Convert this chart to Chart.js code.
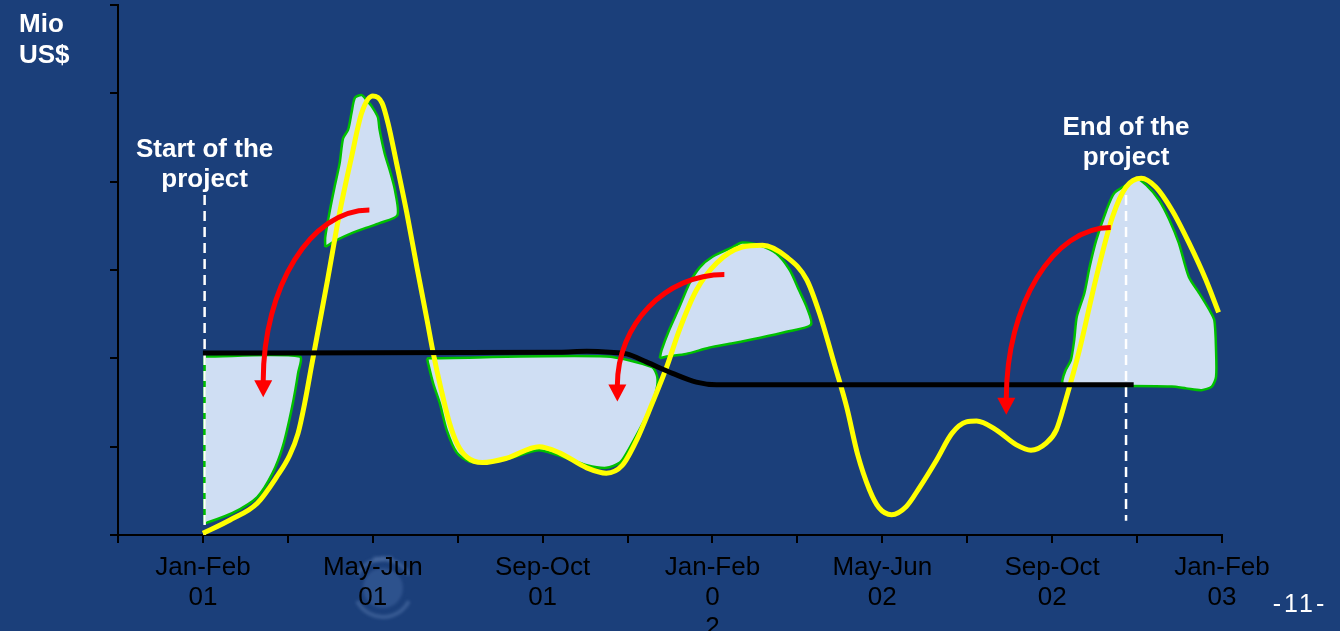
<!DOCTYPE html>
<html>
<head>
<meta charset="utf-8">
<script src="https://cdn.jsdelivr.net/npm/chart.js@4/dist/chart.umd.min.js"></script>
<style>
  html, body { margin: 0; padding: 0; background: #1b3f7a; overflow: hidden; }
  canvas { display: block; }
</style>
</head>
<body>
<canvas id="c" width="1340" height="631"></canvas>
<script>
// Two-month periods along x: 0 = Jan-Feb 01, 1 = Mar-Apr 01, ... 12 = Jan-Feb 03
const tickPositions = [0, 2, 4, 6, 8, 10, 12];
const tickLabels = [
  ['Jan-Feb', '01'], ['May-Jun', '01'], ['Sep-Oct', '01'],
  ['Jan-Feb', '0', '2'], ['May-Jun', '02'], ['Sep-Oct', '02'], ['Jan-Feb', '03']
];

// Cash requirement curve (Mio US$)
const cashflowPeriod = [0, 0.32, 0.64, 0.87, 1.02, 1.12, 1.20, 1.28, 1.34, 1.47, 1.61, 1.75, 1.87, 2.00, 2.11,
  2.18, 2.28, 2.40, 2.52, 2.64, 2.71, 2.80, 2.90, 3.00, 3.11, 3.29, 3.58, 3.96, 4.20, 4.52, 4.75,
  4.94, 5.11, 5.29, 5.46, 5.61, 5.81, 6.05, 6.35, 6.59, 6.87, 7.11, 7.26, 7.44, 7.58, 7.71,
  7.85, 7.96, 8.11, 8.28, 8.44, 8.64, 8.82, 8.99, 9.11, 9.34, 9.58, 9.75, 9.93, 10.05, 10.16,
  10.32, 10.52, 10.71, 10.87, 11.05, 11.22, 11.41, 11.61, 11.81, 11.96];
const cashflowValue = [0.02, 0.17, 0.36, 0.66, 0.90, 1.15, 1.50, 1.92, 2.23, 2.90, 3.65, 4.28, 4.78, 4.97, 4.89,
  4.66, 4.21, 3.65, 3.03, 2.43, 2.07, 1.67, 1.28, 1.02, 0.88, 0.82, 0.87, 1.00, 0.93, 0.76, 0.70,
  0.79, 1.08, 1.49, 1.90, 2.32, 2.77, 3.08, 3.26, 3.28, 3.15, 2.89, 2.51, 1.92, 1.45, 0.91,
  0.51, 0.31, 0.23, 0.32, 0.54, 0.85, 1.15, 1.28, 1.29, 1.19, 1.02, 0.96, 1.04, 1.19, 1.53,
  2.09, 2.92, 3.60, 3.94, 4.04, 3.94, 3.68, 3.31, 2.89, 2.52];

// Flat funding level
const fundingPeriod = [0, 4.20, 4.52, 4.79, 4.99, 5.22, 5.53, 5.81, 6.05, 6.32, 10.96];
const fundingValue = [2.06, 2.07, 2.08, 2.07, 2.05, 1.96, 1.83, 1.73, 1.70, 1.70, 1.70];

// Project start / end markers
const projectStart = 0.02;
const projectEnd = 10.87;
const startMarkerTop = 3.85;
const endMarkerTop = 3.85;
const endMarkerBottom = 0.16;

// Shaded areas: [period, Mio US$]
const shortfallOne = [[0.02, 2.02], [1.14, 2.02], [1.12, 1.83], [1.05, 1.45], [0.94, 1.00], [0.82, 0.70],
  [0.64, 0.43], [0.35, 0.25], [0.05, 0.14], [0.02, 0.14], [0.02, 2.02]];
const surplusOne = [[1.44, 3.26], [1.44, 3.37], [1.49, 3.65], [1.55, 3.94], [1.61, 4.21], [1.65, 4.49],
  [1.71, 4.59], [1.75, 4.78], [1.79, 4.95], [1.87, 4.98], [1.93, 4.92], [1.99, 4.85], [2.06, 4.73],
  [2.08, 4.59], [2.14, 4.32], [2.20, 4.13], [2.26, 3.91], [2.29, 3.62], [2.08, 3.53], [1.93, 3.48],
  [1.76, 3.42], [1.58, 3.34], [1.44, 3.26]];
const shortfallTwo = [[2.64, 2.00], [4.75, 2.02], [5.29, 1.90], [5.35, 1.79], [5.34, 1.64], [5.26, 1.42],
  [5.14, 1.19], [4.99, 0.93], [4.91, 0.82], [4.75, 0.76], [4.52, 0.79], [4.28, 0.87], [3.96, 0.96],
  [3.65, 0.88], [3.34, 0.83], [3.14, 0.83], [2.99, 0.93], [2.87, 1.19], [2.79, 1.49], [2.71, 1.72],
  [2.65, 1.95], [2.64, 2.00]];
const surplusTwo = [[5.38, 2.00], [5.40, 2.09], [5.49, 2.32], [5.61, 2.58], [5.73, 2.85], [5.85, 3.03],
  [6.00, 3.15], [6.24, 3.26], [6.35, 3.31], [6.55, 3.28], [6.75, 3.19], [6.91, 3.00], [7.02, 2.77],
  [7.11, 2.58], [7.16, 2.38], [6.87, 2.30], [6.55, 2.23], [6.24, 2.17], [5.96, 2.12], [5.69, 2.05],
  [5.46, 2.02], [5.38, 2.00]];
const surplusEnd = [[10.12, 1.69], [10.12, 1.75], [10.16, 1.87], [10.22, 1.98], [10.26, 2.21], [10.29, 2.47],
  [10.38, 2.74], [10.44, 3.03], [10.52, 3.34], [10.64, 3.68], [10.73, 3.87], [10.87, 3.96], [10.99, 4.04],
  [11.11, 3.96], [11.26, 3.79], [11.38, 3.57], [11.49, 3.31], [11.61, 2.92], [11.73, 2.74], [11.85, 2.55],
  [11.91, 2.43], [11.93, 2.09], [11.93, 1.79], [11.88, 1.68], [11.76, 1.64], [11.58, 1.66], [11.41, 1.68],
  [10.55, 1.69], [10.12, 1.69]];

// Transfers of surplus into earlier shortfalls: from [period, value] to [period, value]
const transferFrom = [[1.96, 3.68], [6.14, 2.95], [10.69, 3.48]];
const transferTo = [[0.71, 1.56], [4.88, 1.51], [9.46, 1.36]];

const BG = '#1b3f7a';
const FONT = '"Liberation Sans", Arial, Helvetica, sans-serif';

const toPoints = (xs, ys) => xs.map((x, i) => ({ x, y: ys[i] }));
const pairPoints = (pairs) => pairs.map(([x, y]) => ({ x, y }));

function areaDataset(pairs) {
  return {
    data: pairPoints(pairs),
    borderColor: '#00c000',
    borderWidth: 2.5,
    areaFill: '#cfdef3',
    fill: false,
    tension: 0.25,
    pointRadius: 0,
    order: 5
  };
}

const background = {
  id: 'background',
  beforeDraw(chart) {
    const ctx = chart.ctx;
    ctx.save();
    ctx.fillStyle = BG;
    ctx.fillRect(0, 0, chart.width, chart.height);
    // faint emblem below the axis
    ctx.filter = 'blur(1.5px)';
    ctx.globalAlpha = 0.3;
    ctx.strokeStyle = '#7f9fd0';
    ctx.lineWidth = 4;
    ctx.beginPath();
    ctx.arc(383, 588, 29, 0.15 * Math.PI, 0.85 * Math.PI);
    ctx.stroke();
    ctx.beginPath();
    ctx.arc(383, 588, 29, 1.15 * Math.PI, 1.85 * Math.PI);
    ctx.stroke();
    ctx.fillStyle = '#5a7fba';
    ctx.beginPath();
    ctx.arc(383, 588, 20, 0, 2 * Math.PI);
    ctx.fill();
    ctx.fillStyle = '#8fa9d6';
    ctx.font = 'bold 9px ' + FONT;
    ctx.textAlign = 'center';
    ctx.fillText('WFP', 383, 562);
    ctx.restore();
  }
};

// Fill the closed shaded outlines before their green border is stroked
const areaFill = {
  id: 'areaFill',
  beforeDatasetDraw(chart, args) {
    const ds = chart.data.datasets[args.index];
    if (!ds.areaFill) return;
    const ctx = chart.ctx;
    const area = chart.chartArea;
    ctx.save();
    ctx.beginPath();
    ctx.rect(area.left, area.top, area.right - area.left, area.bottom - area.top);
    ctx.clip();
    ctx.beginPath();
    const line = args.meta.dataset;
    let done = false;
    try { line.path(ctx); done = true; } catch (e) { done = false; }
    if (!done) {
      ctx.beginPath();
      args.meta.data.forEach((p, i) => (i ? ctx.lineTo(p.x, p.y) : ctx.moveTo(p.x, p.y)));
    }
    ctx.closePath();
    ctx.fillStyle = ds.areaFill;
    ctx.fill();
    ctx.restore();
  }
};

const annotations = {
  id: 'annotations',
  afterDatasetsDraw(chart) {
    const ctx = chart.ctx;
    const xs = chart.scales.x, ys = chart.scales.y;
    ctx.save();
    // curved red transfer arrows
    ctx.strokeStyle = '#ff0000';
    ctx.fillStyle = '#ff0000';
    ctx.lineWidth = 5;
    ctx.lineCap = 'butt';
    transferFrom.forEach((from, i) => {
      const x0 = xs.getPixelForValue(from[0]), y0 = ys.getPixelForValue(from[1]);
      const x1 = xs.getPixelForValue(transferTo[i][0]), y1 = ys.getPixelForValue(transferTo[i][1]);
      const head = 17, half = 9;
      const by = y1 - head;
      const k = 0.55;
      ctx.beginPath();
      ctx.moveTo(x0, y0);
      ctx.bezierCurveTo(x0 - k * (x0 - x1), y0, x1, by - k * (by - y0), x1, by + 1);
      ctx.stroke();
      ctx.beginPath();
      ctx.moveTo(x1, y1);
      ctx.lineTo(x1 - half, by);
      ctx.lineTo(x1 + half, by);
      ctx.closePath();
      ctx.fill();
    });
    ctx.restore();
  },
  afterDraw(chart) {
    const ctx = chart.ctx;
    const xs = chart.scales.x;
    ctx.save();
    ctx.fillStyle = '#ffffff';
    ctx.textBaseline = 'alphabetic';
    ctx.font = 'bold 26px ' + FONT;
    ctx.textAlign = 'left';
    ctx.fillText('Mio', 19, 32);
    ctx.fillText('US$', 19, 63);

    ctx.textAlign = 'center';
    const sx = xs.getPixelForValue(projectStart);
    ctx.fillText('Start of the', sx, 157);
    ctx.fillText('project', sx, 187);
    const ex = xs.getPixelForValue(projectEnd);
    ctx.fillText('End of the', ex, 135);
    ctx.fillText('project', ex, 165);

    ctx.font = '25px ' + FONT;
    ctx.letterSpacing = '3px';
    ctx.fillText('-11-', 1300, 612);
    ctx.restore();
  }
};

const chart = new Chart(document.getElementById('c'), {
  type: 'line',
  data: {
    datasets: [
      {
        label: 'Funding',
        data: toPoints(fundingPeriod, fundingValue),
        borderColor: '#000000',
        borderWidth: 5,
        cubicInterpolationMode: 'monotone',
        pointRadius: 0,
        fill: false,
        order: 1
      },
      {
        label: 'Cash requirement',
        data: toPoints(cashflowPeriod, cashflowValue),
        borderColor: '#ffff00',
        borderWidth: 5,
        cubicInterpolationMode: 'monotone',
        pointRadius: 0,
        fill: false,
        order: 2
      },
      {
        label: 'Start',
        data: [{ x: projectStart, y: startMarkerTop }, { x: projectStart, y: 0 }],
        borderColor: '#ffffff',
        borderWidth: 2.5,
        borderDash: [10, 6],
        pointRadius: 0,
        fill: false,
        order: 4
      },
      {
        label: 'End',
        data: [{ x: projectEnd, y: endMarkerTop }, { x: projectEnd, y: endMarkerBottom }],
        borderColor: '#ffffff',
        borderWidth: 2.5,
        borderDash: [10, 6],
        pointRadius: 0,
        fill: false,
        order: 4
      },
      areaDataset(shortfallOne),
      areaDataset(surplusOne),
      areaDataset(shortfallTwo),
      areaDataset(surplusTwo),
      areaDataset(surplusEnd)
    ]
  },
  options: {
    responsive: false,
    animation: false,
    devicePixelRatio: 1,
    layout: { padding: { left: 0, right: 118, top: 5, bottom: 0 } },
    plugins: {
      legend: { display: false },
      tooltip: { enabled: false }
    },
    scales: {
      x: {
        type: 'linear',
        min: -1,
        max: 12,
        ticks: {
          stepSize: 1,
          autoSkip: false,
          maxRotation: 0,
          minRotation: 0,
          padding: 10,
          color: '#000000',
          font: { family: FONT, size: 26, lineHeight: 1.15 },
          callback: (value) => {
            const i = tickPositions.indexOf(value);
            return i >= 0 ? tickLabels[i] : '';
          }
        },
        grid: { drawOnChartArea: false, drawTicks: true, tickLength: 8, color: '#000000', lineWidth: 2 },
        border: { display: true, color: '#000000', width: 2 },
        afterFit: (scale) => { scale.height = 96; }
      },
      y: {
        type: 'linear',
        min: 0,
        max: 6,
        ticks: { stepSize: 1, display: false },
        grid: { drawOnChartArea: false, drawTicks: true, tickLength: 8, color: '#000000', lineWidth: 2 },
        border: { display: true, color: '#000000', width: 2 },
        afterFit: (scale) => { scale.width = 118; }
      }
    }
  },
  plugins: [background, areaFill, annotations]
});
</script>
</body>
</html>
